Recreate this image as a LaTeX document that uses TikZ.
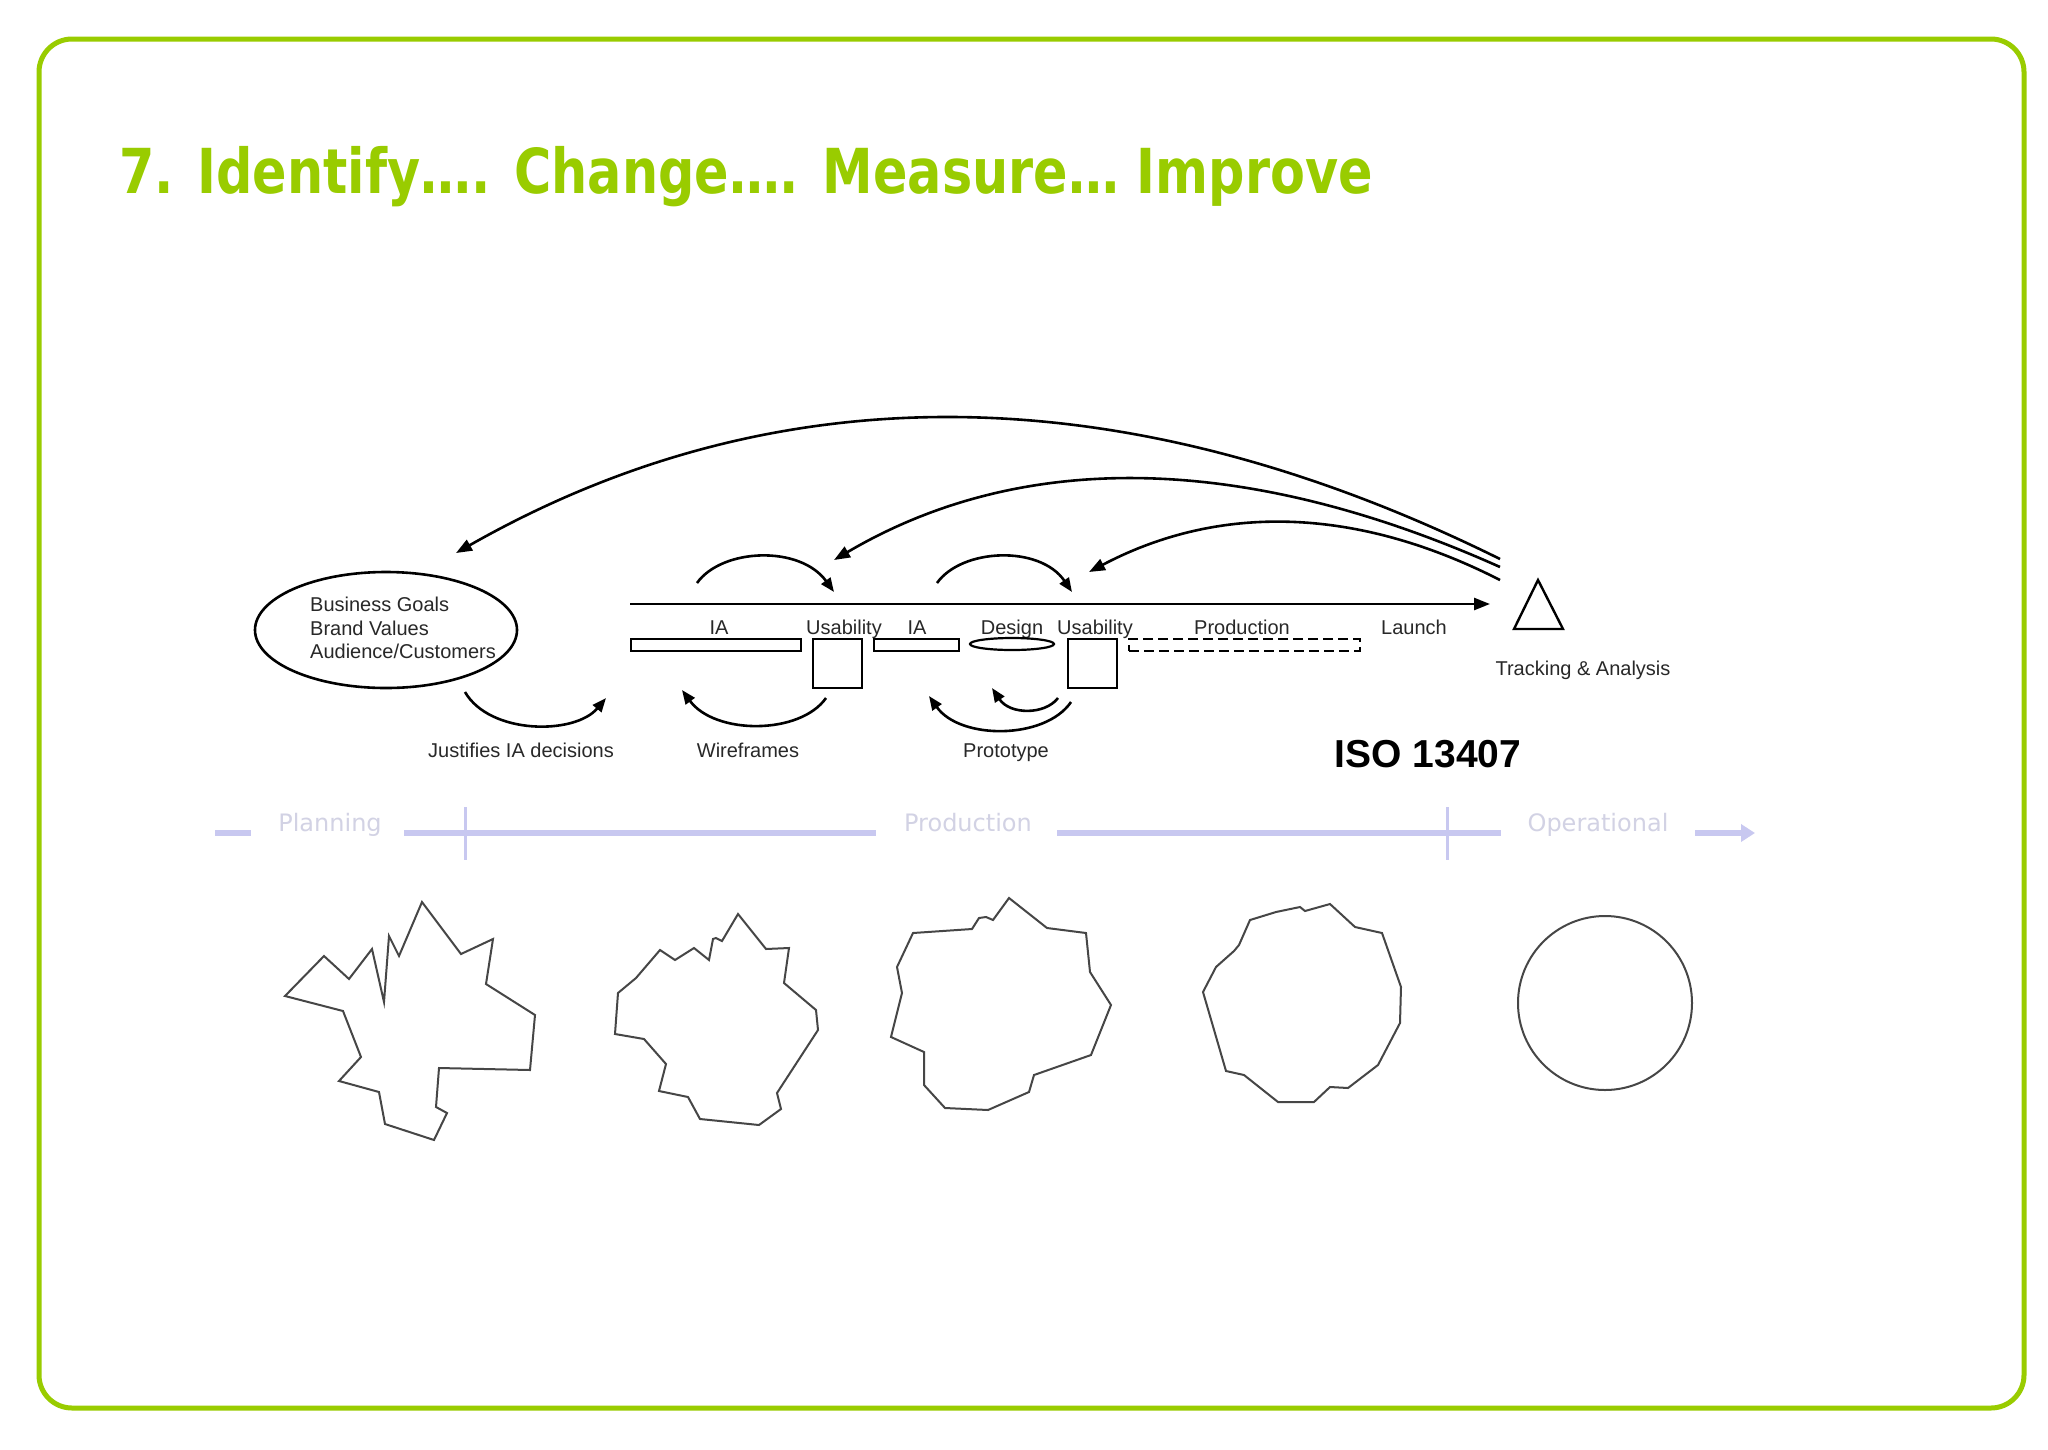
\documentclass[tikz,border=0pt]{standalone}
\usepackage{fontspec}
\setmainfont{Liberation Sans}
\newfontfamily\dejavu{DejaVu Sans}
\usetikzlibrary{arrows.meta,shapes.geometric}
\definecolor{brdgreen}{RGB}{153,204,0}
\definecolor{tlline}{RGB}{200,200,240}
\definecolor{tltext}{RGB}{210,210,228}
\definecolor{shapegray}{RGB}{70,70,70}
\definecolor{txtgray}{RGB}{40,40,40}
\begin{document}
\begin{tikzpicture}[x=1pt,y=-1pt,
  lbl/.style={font=\fontsize{20}{24}\selectfont, text=txtgray, inner sep=0pt, anchor=base},
  ln/.style={line width=2.6pt, black},
  arr/.style={ln, -{Triangle[length=16pt,width=12pt]}},
  sarr/.style={ln, -{Triangle[length=14pt,width=11pt]}},
  bar/.style={draw, line width=2.2pt, inner sep=0pt, anchor=north west},
  tlw/.style={font=\dejavu\fontsize{24}{28}\selectfont, text=tltext, inner sep=0pt, anchor=base},
  tl/.style={line width=6pt, tlline},
  tick/.style={line width=3pt, tlline},
  blob/.style={draw=shapegray, line width=2pt, line join=miter}
]
\useasboundingbox (0,0) rectangle (2048,1449);
\fill[white] (0,0) rectangle (2048,1449);
% frame
\draw[brdgreen, line width=5pt, rounded corners=33pt] (39,39) rectangle (2024,1408);
% title
\node[anchor=base west, text=brdgreen, font=\dejavu\bfseries\fontsize{62}{70}\selectfont, inner sep=0pt] (title) at (119,193) {\scalebox{0.82}[1]{7. Identify…. Change…. Measure… Improve}};

% ellipse with goals
\node[draw, ellipse, line width=2.6pt, minimum width=262pt, minimum height=116pt, inner sep=0pt] (goals) at (386,630) {};
\node[lbl, anchor=base west] (g1) at (310,611) {Business Goals};
\node[lbl, anchor=base west] (g2) at (310,635) {Brand Values};
\node[lbl, anchor=base west] (g3) at (310,658) {Audience/Customers};

% main line
\coordinate (l0) at (630,604);
\coordinate (l1) at (1490,604);
\draw[arr] (l0) -- (l1);

% labels under line
\node[lbl] (ia1) at (719,634) {IA};
\node[lbl] (us1) at (844,634) {Usability};
\node[lbl] (ia2) at (917,634) {IA};
\node[lbl] (des) at (1012,634) {Design};
\node[lbl] (us2) at (1095,634) {Usability};
\node[lbl] (prod) at (1242,634) {Production};
\node[lbl] (lau) at (1414,634) {Launch};

% bars and boxes
\node[bar, minimum width=170pt, minimum height=12pt] (bar1) at (630,638) {};
\node[bar, minimum width=49pt, minimum height=49pt] (box1) at (812,638) {};
\node[bar, minimum width=85pt, minimum height=12pt] (bar2) at (873,638) {};
\node[draw, ellipse, line width=2.2pt, minimum width=84pt, minimum height=12pt, inner sep=0pt] (desell) at (1012,644) {};
\node[bar, minimum width=49pt, minimum height=49pt] (box2) at (1067,638) {};
\node[bar, dashed, dash pattern=on 10pt off 5pt, minimum width=231pt, minimum height=12pt] (prodbar) at (1128,638) {};

% triangle
\coordinate (tA) at (1538,580);
\coordinate (tB) at (1514,629);
\coordinate (tC) at (1563,629);
\draw[line width=2.4pt, line join=miter] (tA) -- (tB) -- (tC) -- cycle;
\node[lbl] (track) at (1583,675) {Tracking \& Analysis};

% big arcs
\coordinate (s1) at (1500,559);
\coordinate (s2) at (1500,567);
\coordinate (s3) at (1500,580);
\coordinate (e1) at (456,553);
\coordinate (e2) at (834,560);
\coordinate (e3) at (1089,572);
\draw[arr] (s1) .. controls (1124,373) and (776,371) .. (e1);
\draw[arr] (s2) .. controls (1243,452) and (1021,450) .. (e2);
\draw[arr] (s3) .. controls (1357,507) and (1220,503) .. (e3);

% small arcs above
\coordinate (a1s) at (697,583);
\coordinate (a1e) at (834,592);
\coordinate (a2s) at (937,583);
\coordinate (a2e) at (1072,592);
\draw[sarr] (a1s) .. controls (722,548) and (800,545) .. (a1e);
\draw[sarr] (a2s) .. controls (962,548) and (1040,545) .. (a2e);

% arcs below
\coordinate (b1s) at (465,692);
\coordinate (b1e) at (606,698);
\coordinate (b2s) at (826,698);
\coordinate (b2e) at (682,690);
\coordinate (b3s) at (1071,702);
\coordinate (b3e) at (929,696);
\coordinate (b4s) at (1058,698);
\coordinate (b4e) at (992,688);
\draw[sarr] (b1s) .. controls (490,735) and (575,735) .. (b1e);
\draw[sarr] (b2s) .. controls (800,735) and (715,735) .. (b2e);
\draw[sarr] (b3s) .. controls (1045,740) and (960,740) .. (b3e);
\draw[sarr] (b4s) .. controls (1045,715) and (1010,715) .. (b4e);

\node[lbl] (just) at (521,757) {Justifies IA decisions};
\node[lbl] (wire) at (748,757) {Wireframes};
\node[lbl] (proto) at (1006,757) {Prototype};

\node[font=\bfseries\fontsize{39}{44}\selectfont, inner sep=0pt, anchor=base] (iso) at (1428,767) {ISO 13407};

% timeline
\draw[tl] (215,833) -- (251,833);
\draw[tl] (404,833) -- (876,833);
\draw[tl] (1057,833) -- (1501,833);
\draw[tl, -{Triangle[length=14pt,width=17pt]}] (1695,833) -- (1755,833);
\draw[tick] (465,807) -- (465,860);
\draw[tick] (1447,807) -- (1447,860);
\node[tlw] (tplan) at (330,831) {Planning};
\node[tlw] (tprod) at (968,831) {Production};
\node[tlw] (toper) at (1598,831) {Operational};

% blobs
\draw[blob] (285,996) -- (324,956) -- (349,979) -- (372,949) -- (384,1002) -- (389,936) -- (399,956) -- (422,902) -- (461,954) -- (493,939) -- (486,984) -- (535,1015) -- (530,1070) -- (439,1068) -- (436,1107) -- (447,1113) -- (434,1140) -- (385,1124) -- (379,1092) -- (339,1081) -- (361,1057) -- (343,1011) -- cycle;
\draw[blob] (618,993) -- (615,1034) -- (644,1039) -- (666,1064) -- (659,1091) -- (688,1097) -- (700,1119) -- (759,1125) -- (781,1109) -- (777,1093) -- (818,1030) -- (816,1010) -- (784,983) -- (789,948) -- (766,949) -- (738,914) -- (722,941) -- (716,938) -- (713,939) -- (709,960) -- (694,948) -- (675,960) -- (660,950) -- (636,978) -- cycle;
\draw[blob] (913,933) -- (972,929) -- (979,918) -- (986,917) -- (993,920) -- (1009,898) -- (1047,928) -- (1086,933) -- (1090,972) -- (1111,1005) -- (1091,1055) -- (1034,1075) -- (1029,1092) -- (988,1110) -- (945,1108) -- (924,1085) -- (924,1052) -- (891,1037) -- (902,993) -- (897,967) -- cycle;
\draw[blob] (1250,920) -- (1276,912) -- (1300,907) -- (1305,911) -- (1330,904) -- (1355,927) -- (1382,933) -- (1401,987) -- (1400,1023) -- (1378,1065) -- (1348,1088) -- (1330,1087) -- (1314,1102) -- (1278,1102) -- (1244,1075) -- (1226,1071) -- (1203,992) -- (1216,967) -- (1234,951) -- (1239,945) -- cycle;
\draw[blob] (1605,1003) circle[radius=87];
\end{tikzpicture}
\end{document}
